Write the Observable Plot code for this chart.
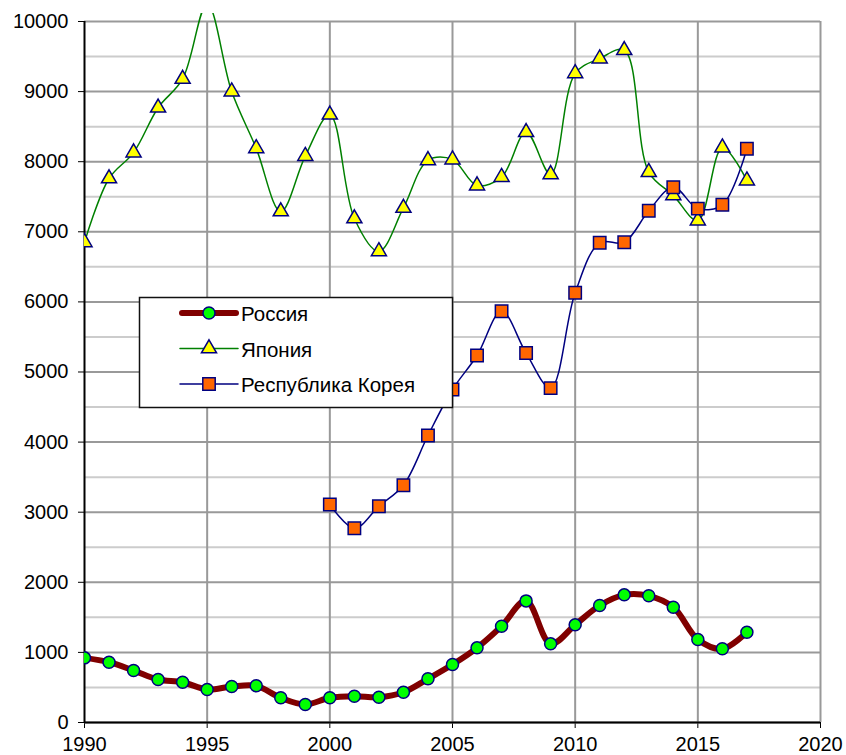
<!DOCTYPE html>
<html><head><meta charset="utf-8">
<script src="https://cdn.jsdelivr.net/npm/d3@7"></script>
<script src="https://cdn.jsdelivr.net/npm/@observablehq/plot@0.6"></script>
<style>
body{margin:0;background:#fff;}
#wrap{position:relative;width:846px;height:755px;}
#legend{position:absolute;left:0;top:0;}
</style>
</head><body><div id="wrap"></div>
<script>
const years = [1990,1991,1992,1993,1994,1995,1996,1997,1998,1999,2000,2001,2002,2003,2004,2005,2006,2007,2008,2009,2010,2011,2012,2013,2014,2015,2016,2017];
const russia = [922,860,742,613,575,470,513,523,352,257,352,375,361,432,623,827,1065,1374,1735,1122,1393,1669,1821,1807,1645,1184,1051,1288];
const japan = [6850,7760,8130,8770,9180,10250,9000,8190,7290,8080,8670,7190,6720,7340,8020,8030,7660,7780,8420,7820,9260,9470,9590,7850,7520,7160,8200,7730];
const koreaYears = [2000,2001,2002,2003,2004,2005,2006,2007,2008,2009,2010,2011,2012,2013,2014,2015,2016,2017];
const korea = [3110,2770,3085,3385,4094,4750,5235,5867,5270,4770,6130,6843,6850,7300,7636,7330,7385,8185];
const seriesNames = ["Россия","Япония","Республика Корея"];
const xTicks = [1990,1995,2000,2005,2010,2015,2020];
const yTicks = [0,1000,2000,3000,4000,5000,6000,7000,8000,9000,10000];
const yMinor = [500,1500,2500,3500,4500,5500,6500,7500,8500,9500];

const ru = years.map((y,i)=>({year:y, v:russia[i]}));
const jp = years.map((y,i)=>({year:y, v:japan[i]}));
const kr = koreaYears.map((y,i)=>({year:y, v:korea[i]}));

const chart = Plot.plot({
  width: 846, height: 755,
  marginLeft: 84, marginRight: 26, marginTop: 13, marginBottom: 33,
  style: {fontFamily: "'Liberation Sans', Arial, sans-serif", fontSize: "20px", color: "black", background: "white"},
  x: {domain: [1990, 2020], ticks: xTicks, tickFormat: d => String(d), tickSize: 6, tickPadding: 8, label: null},
  y: {domain: [0, 10114], ticks: yTicks, tickFormat: d => String(d), tickSize: 6, tickPadding: 10, label: null},
  marks: [
    Plot.ruleY(yMinor, {stroke: "#cccccc", strokeWidth: 2}),
    Plot.ruleY(yTicks, {stroke: "#999999", strokeWidth: 2}),
    Plot.ruleX(xTicks.slice(1), {y1: 0, y2: 10000, stroke: "#999999", strokeWidth: 2}),
    Plot.ruleX([1990], {y1: 0, y2: 10000, stroke: "black", strokeWidth: 2}),
    Plot.ruleY([0], {stroke: "black", strokeWidth: 2}),
    Plot.line(ru, {x: "year", y: "v", stroke: "#800000", strokeWidth: 6, curve: "catmull-rom", clip: true}),
    Plot.dot(ru, {x: "year", y: "v", r: 6, fill: "#00ff00", stroke: "#000080", strokeWidth: 1.5, clip: true}),
    Plot.line(jp, {x: "year", y: "v", stroke: "#008000", strokeWidth: 1.5, curve: "catmull-rom", clip: true}),
    Plot.dot(jp, {x: "year", y: "v", symbol: "triangle", r: 5.6, fill: "#ffff00", stroke: "#000080", strokeWidth: 1.5, clip: true}),
    Plot.line(kr, {x: "year", y: "v", stroke: "#000080", strokeWidth: 1.5, curve: "catmull-rom", clip: true}),
    Plot.dot(kr, {x: "year", y: "v", symbol: "square", r: 7, fill: "#ff6600", stroke: "#000080", strokeWidth: 1.5, clip: true})
  ]
});
const wrap = document.getElementById("wrap");
wrap.appendChild(chart);

// legend overlay
const lg = d3.select(wrap).append("svg").attr("id","legend").attr("width",846).attr("height",755);
lg.append("rect").attr("x",139.5).attr("y",297.5).attr("width",313).attr("height",110)
  .attr("fill","white").attr("stroke","#111").attr("stroke-width",1.5);
const ys = [313, 348.5, 384];
const sym = [d3.symbolCircle, d3.symbolTriangle, d3.symbolSquare];
const fills = ["#00ff00","#ffff00","#ff6600"];
const strokes = ["#800000","#008000","#000080"];
const widths = [6,1.5,1.5];
const sizes = [Math.PI*36, Math.PI*5.6*5.6, Math.PI*49];
seriesNames.forEach((n,i)=>{
  lg.append("line").attr("x1", i===0?182:180).attr("x2", i===0?236:238).attr("y1",ys[i]).attr("y2",ys[i])
    .attr("stroke",strokes[i]).attr("stroke-width",widths[i]).attr("stroke-linecap","round");
  lg.append("path").attr("d", d3.symbol(sym[i], sizes[i])()).attr("transform",`translate(209,${ys[i]})`)
    .attr("fill",fills[i]).attr("stroke","#000080").attr("stroke-width",1.5);
  lg.append("text").attr("x",241).attr("y",ys[i]).attr("dy","0.4em").text(n)
    .attr("font-family","'Liberation Sans', Arial, sans-serif").attr("font-size","20.5px").attr("fill","black");
});
</script>
</body></html>
